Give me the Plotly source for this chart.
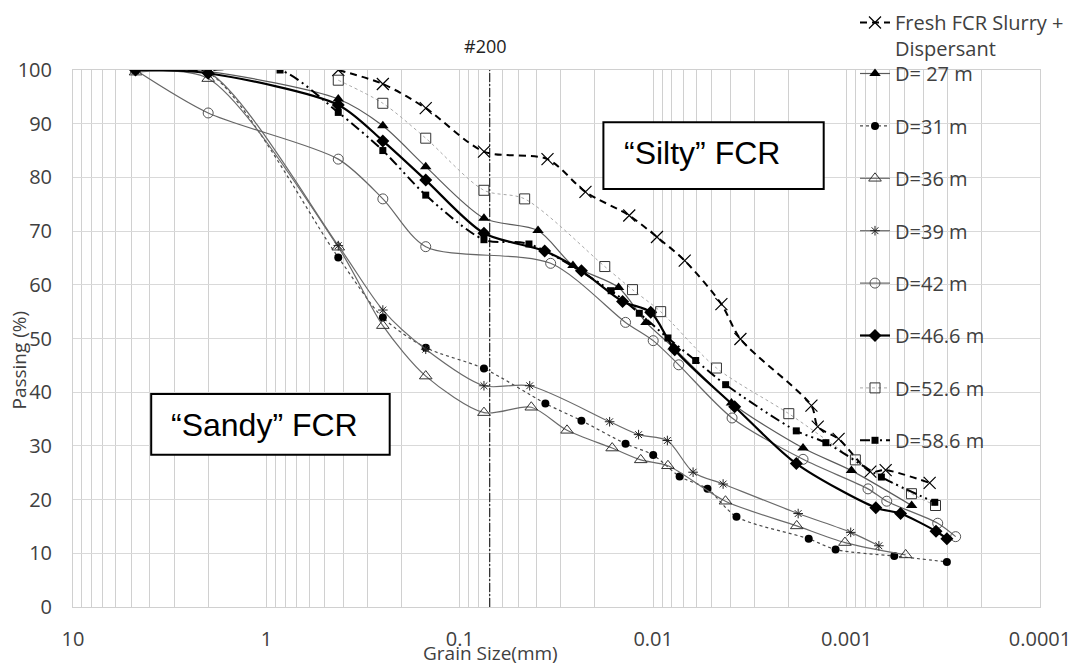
import plotly.graph_objects as go

# ---------------- data ----------------
fresh_x = [0.425, 0.25, 0.15, 0.075, 0.0352, 0.0224, 0.0133, 0.00956, 0.00687, 0.00444, 0.00354,
           0.00152, 0.00141, 0.0011, 0.000754, 0.000628, 0.000372]
fresh_y = [100, 97.4, 92.9, 84.8, 83.4, 77.3, 72.9, 68.9, 64.5, 56.4, 49.9, 37.5, 33.6, 31.3, 25.2, 25.5, 23.1]

d27_x = [4.75, 2.0, 0.425, 0.25, 0.15, 0.075, 0.0394, 0.026, 0.0151, 0.0109, 0.0079, 0.00394, 0.00168, 0.000944, 0.000461]
d27_y = [100, 99.7, 94.6, 89.6, 82.0, 72.4, 70.1, 63.6, 59.5, 53.0, 48.4, 38.0, 29.6, 25.4, 18.9]

d31_x = [4.75, 2.0, 0.425, 0.25, 0.15, 0.075, 0.0361, 0.0235, 0.0139, 0.0100, 0.0073, 0.00524, 0.00371,
         0.00157, 0.00114, 0.000567, 0.000303]
d31_y = [100, 99.5, 65.1, 53.9, 48.3, 44.4, 37.9, 34.7, 30.4, 28.3, 24.3, 22.0, 16.8, 12.7, 10.7, 9.5, 8.4]

d36_x = [4.75, 2.0, 0.425, 0.25, 0.15, 0.075, 0.0427, 0.0279, 0.0163, 0.0116, 0.00839, 0.00423, 0.00181, 0.00102, 0.000495]
d36_y = [99.6, 98.4, 67.0, 52.4, 43.0, 36.2, 37.2, 32.9, 29.6, 27.4, 26.3, 19.7, 15.1, 12.0, 9.7]

d39_x = [4.75, 2.0, 0.425, 0.25, 0.15, 0.075, 0.0435, 0.0168, 0.0119, 0.00845, 0.00622, 0.00435, 0.00178, 0.000952, 0.000681]
d39_y = [100, 99.6, 67.3, 55.3, 48.0, 41.2, 41.2, 34.5, 32.1, 31.0, 25.1, 22.9, 17.4, 13.9, 11.4]

d42_x = [4.75, 2.0, 0.425, 0.25, 0.15, 0.0339, 0.0139, 0.0100, 0.00738, 0.00391, 0.00168, 0.000775, 0.00062, 0.000338, 0.000273]
d42_y = [100, 92.0, 83.4, 76.0, 67.1, 64.0, 53.0, 49.6, 45.1, 35.2, 27.5, 22.0, 19.7, 15.6, 13.1]

d466_x = [4.75, 2.0, 0.425, 0.25, 0.15, 0.075, 0.0364, 0.0235, 0.0144, 0.0103, 0.00774, 0.00379, 0.00182,
          0.000706, 0.000526, 0.000345, 0.000303]
d466_y = [100, 99.4, 93.5, 86.8, 79.5, 69.6, 66.3, 62.6, 56.9, 54.9, 47.9, 37.3, 26.7, 18.5, 17.4, 14.1, 12.7]

d526_x = [0.425, 0.25, 0.15, 0.075, 0.0462, 0.0178, 0.0128, 0.00915, 0.00471, 0.00199, 0.000901, 0.000462, 0.000347]
d526_y = [98.1, 93.8, 87.3, 77.6, 76.0, 63.4, 59.1, 55.0, 44.5, 36.0, 27.4, 21.1, 18.9]

d586_x = [4.75, 2.0, 0.85, 0.425, 0.25, 0.15, 0.075, 0.0439, 0.0165, 0.0118, 0.00839, 0.00603, 0.00422,
          0.00182, 0.00128, 0.000661, 0.00035]
d586_y = [100, 100, 100, 92.1, 85.0, 76.7, 68.4, 67.6, 58.9, 54.7, 50.1, 45.9, 41.4, 32.8, 30.6, 24.2, 19.5]

sieve200_size = 0.07
x_tick_labels = ["10", "1", "0.1", "0.01", "0.001", "0.0001"]
x_tick_decades = [10, 1, 0.1, 0.01, 0.001, 0.0001]

FONT = "Open Sans"
TXT = "#404040"

fig = go.Figure()

def add(name, xs, ys, lcolor, lwidth, dash, symbol, msize, mcolor, mline_color, mline_w, legend):
    fig.add_trace(go.Scatter(
        x=xs, y=ys, name=name, mode="lines+markers", legend=legend, legendgroup=name,
        line=dict(color=lcolor, width=lwidth, dash=dash, shape="spline", smoothing=0.8),
        marker=dict(symbol=symbol, size=msize, color=mcolor,
                    line=dict(color=mline_color, width=mline_w)),
    ))

# #200 line
fig.add_trace(go.Scatter(x=[sieve200_size, sieve200_size], y=[0, 100], mode="lines", showlegend=False,
                         line=dict(color="black", width=1, dash="9px,2px,2px,2px"), hoverinfo="skip"))

add("Fresh FCR Slurry +<br>Dispersant", fresh_x, fresh_y, "black", 2, "7px,5px", "x-thin-open", 12, "black", "black", 1.2, "legend")
add("D= 27 m", d27_x, d27_y, "#5a5a5a", 1.2, "solid", "triangle-up", 10, "black", "black", 0, "legend2")
add("D=31 m", d31_x, d31_y, "#4a4a4a", 1.2, "dot", "circle", 8, "black", "black", 0, "legend2")
add("D=36 m", d36_x, d36_y, "#6a6a6a", 1.2, "solid", "triangle-up-open", 11, "#333333", "#333333", 1, "legend2")
add("D=39 m", d39_x, d39_y, "#6a6a6a", 1.2, "solid", "asterisk-open", 8, "#222222", "#222222", 1, "legend2")
add("D=42 m", d42_x, d42_y, "#666666", 1.2, "solid", "circle-open", 10, "#555555", "#555555", 1, "legend2")
add("D=46.6 m", d466_x, d466_y, "black", 2.2, "solid", "diamond", 10, "black", "black", 0, "legend2")
add("D=52.6 m", d526_x, d526_y, "#a8a8a8", 1, "dot", "square-open", 10, "#333333", "#333333", 1, "legend2")
add("D=58.6 m", d586_x, d586_y, "black", 2, "10px,4px,2px,4px,2px,4px", "square", 7, "black", "black", 0, "legend2")

# log tick grid (all 1..9 multiples), labels only at decades
tickvals, ticktext = [], []
for d, lab in zip(x_tick_decades[1:], x_tick_labels[1:]):
    for m in range(1, 10):
        tickvals.append(round(m * d, 10))
        ticktext.append(lab if m == 1 else "")
tickvals.append(10)
ticktext.append("10")

L, R, T, B = 73.3, 1040.3, 70.0, 607.3
W, H = 1078, 665
PW, PH = R - L, B - T

def px(xp):
    return (xp - L) / PW

def py(yp):
    return (B - yp) / PH

def label(text, x, y, size, color, family=FONT, angle=0):
    return dict(text=text, xref="paper", yref="paper", x=px(x), y=py(y), showarrow=False,
                xanchor="center", yanchor="middle", textangle=angle,
                font=dict(family=family, size=size, color=color))

fig.update_layout(
    width=W, height=H,
    margin=dict(l=L, r=W - R, t=T, b=H - B, pad=0, autoexpand=False),
    paper_bgcolor="white", plot_bgcolor="white",
    font=dict(family=FONT, size=20, color=TXT),
    xaxis=dict(type="log", range=[1, -4], tickvals=tickvals, ticktext=ticktext,
               showgrid=True, gridcolor="#d0d0d0", gridwidth=1, zeroline=False,
               showline=True, linecolor="#d0d0d0", mirror=True, ticks="",
               ticklabelstandoff=14, tickfont=dict(size=20, color=TXT)),
    yaxis=dict(range=[0, 100], dtick=10, showgrid=True, gridcolor="#d9d9d9", zeroline=False,
               showline=True, linecolor="#d0d0d0", mirror=True, ticks="",
               ticklabelstandoff=16, tickfont=dict(size=20, color=TXT)),
    showlegend=True,
    legend=dict(xref="container", yref="container", x=855 / W, y=1 - 3 / H, xanchor="left", yanchor="top",
                bgcolor="rgba(0,0,0,0)", borderwidth=0, valign="top", maxheight=200,
                font=dict(family=FONT, size=20, color=TXT)),
    legend2=dict(xref="container", yref="container", x=855 / W, y=1 - 54 / H, xanchor="left", yanchor="top",
                 bgcolor="rgba(0,0,0,0)", borderwidth=0, tracegroupgap=23.4, maxheight=600,
                 font=dict(family=FONT, size=20, color=TXT)),
    shapes=[
        dict(type="rect", xref="paper", yref="paper", x0=px(603.7), x1=px(824), y0=py(189), y1=py(122.3),
             line=dict(color="black", width=2), fillcolor="white", layer="above"),
        dict(type="rect", xref="paper", yref="paper", x0=px(151.5), x1=px(390), y0=py(455), y1=py(394.3),
             line=dict(color="black", width=2), fillcolor="white", layer="above"),
    ],
    annotations=[
        label("\u201cSilty\u201d FCR", 702, 153, 32, "black", "Liberation Sans, Arial"),
        label("\u201cSandy\u201d FCR", 265, 425, 32, "black", "Liberation Sans, Arial"),
        label("#200", 486, 46, 18, "#222222"),
        label("Grain Size(mm)", 491, 653, 19, TXT),
        label("Passing (%)", 19, 360, 19, TXT, angle=-90),
    ],
)

fig.write_html("out.html")
